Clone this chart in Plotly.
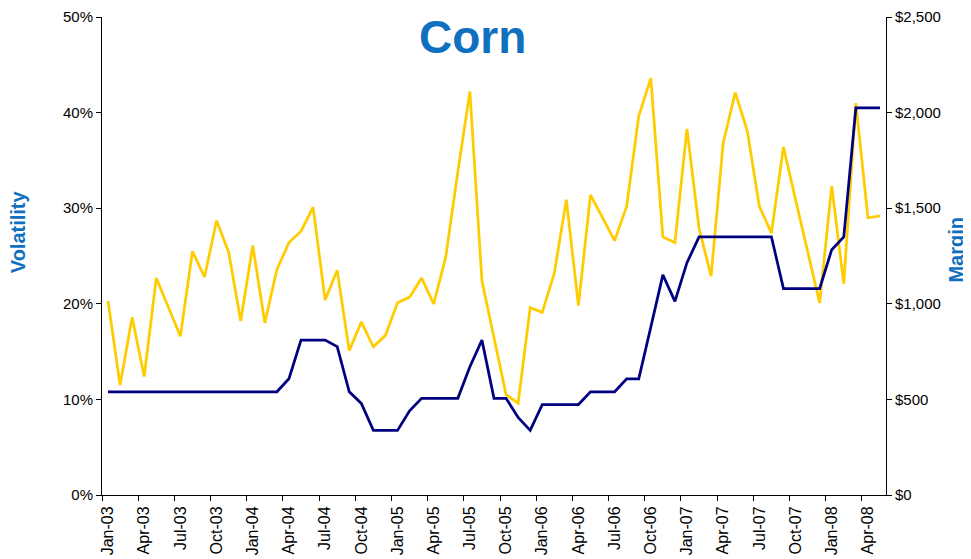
import pandas as pd
import plotly.graph_objects as go

# monthly categories Jan-03 .. May-08
months = pd.date_range("2003-01-01", "2008-05-01", freq="MS").strftime("%b-%y").tolist()

# implied volatility, percent
volatility = [20.3, 11.5, 18.6, 12.4, 22.7, 19.6, 16.6, 25.5, 22.8, 28.7, 25.4, 18.2,
              26.1, 18.0, 23.6, 26.4, 27.6, 30.1, 20.4, 23.5, 15.1, 18.1, 15.5, 16.7,
              20.1, 20.7, 22.7, 20.0, 24.9, 33.8, 42.2, 22.4, 16.5, 10.5, 9.6, 19.6,
              19.1, 23.2, 30.9, 19.8, 31.4, 29.0, 26.6, 30.2, 39.6, 43.6, 27.0, 26.4,
              38.3, 27.9, 22.9, 36.8, 42.1, 38.1, 30.2, 27.4, 36.4, 30.9, 25.5, 20.1,
              32.3, 22.1, 41.0, 29.0, 29.2]

# exchange margin, dollars
margin = [540, 540, 540, 540, 540, 540, 540, 540, 540, 540, 540, 540,
          540, 540, 540, 608, 810, 810, 810, 776, 540, 479, 338, 338,
          338, 440, 506, 506, 506, 506, 671, 810, 506, 506, 406, 338,
          473, 473, 473, 473, 540, 540, 540, 608, 608, 878, 1151, 1013,
          1215, 1350, 1350, 1350, 1350, 1350, 1350, 1350, 1080, 1080, 1080, 1080,
          1283, 1350, 2025, 2025, 2025]

x = list(range(len(months)))
FONT = "Liberation Sans, Arial, sans-serif"
BLUE = "#1070C0"

fig = go.Figure()
fig.add_scatter(x=x, y=volatility, mode="lines", name="Volatility",
                line=dict(color="#FFCC00", width=2.75))
fig.add_scatter(x=x, y=margin, mode="lines", name="Margin", yaxis="y2",
                line=dict(color="#000080", width=2.75))

# page body adds 8px, so the figure is sized to fill the 971x559 window
fig.update_layout(
    width=963, height=551,
    margin=dict(l=94, r=85, t=9, b=64, autoexpand=False),
    paper_bgcolor="white", plot_bgcolor="white",
    showlegend=False,
    font=dict(family=FONT, size=15, color="black"),
    xaxis=dict(range=[-0.5, len(months) - 0.5], tickmode="array",
               tickvals=x[::3], ticktext=months[::3], tickangle=-90,
               tickfont=dict(size=16), ticklabelstandoff=4,
               ticks="", showgrid=False, zeroline=False, automargin=False,
               showline=True, linecolor="black", linewidth=1,
               minor=dict(tickmode="array", tickvals=[v - 0.5 for v in x[::3]],
                          ticks="outside", ticklen=5, tickcolor="black",
                          showgrid=False)),
    yaxis=dict(range=[0, 50], dtick=10, ticksuffix="%", ticks="outside",
               ticklen=5, tickcolor="black", showgrid=False, zeroline=False,
               automargin=False,
               showline=True, linecolor="black", linewidth=1),
    yaxis2=dict(range=[0, 2500], dtick=500, tickprefix="$", tickformat=",",
                overlaying="y", side="right", ticks="outside", ticklen=5,
                tickcolor="black", showgrid=False, zeroline=False,
                automargin=False,
                showline=True, linecolor="black", linewidth=1),
)

fig.add_annotation(text="<b>Corn</b>", xref="paper", yref="paper",
                   x=0.472, y=0.958, xanchor="center", yanchor="middle",
                   showarrow=False, font=dict(size=46, color=BLUE, family=FONT))
fig.add_annotation(text="<b>Volatility</b>", xref="paper", yref="paper",
                   x=-0.107, y=0.55, textangle=-90, xanchor="center", yanchor="middle",
                   showarrow=False, font=dict(size=20, color=BLUE, family=FONT))
fig.add_annotation(text="<b>Margin</b>", xref="paper", yref="paper",
                   x=1.089, y=0.513, textangle=-90, xanchor="center", yanchor="middle",
                   showarrow=False, font=dict(size=20, color=BLUE, family=FONT))

fig.write_html("out.html")
